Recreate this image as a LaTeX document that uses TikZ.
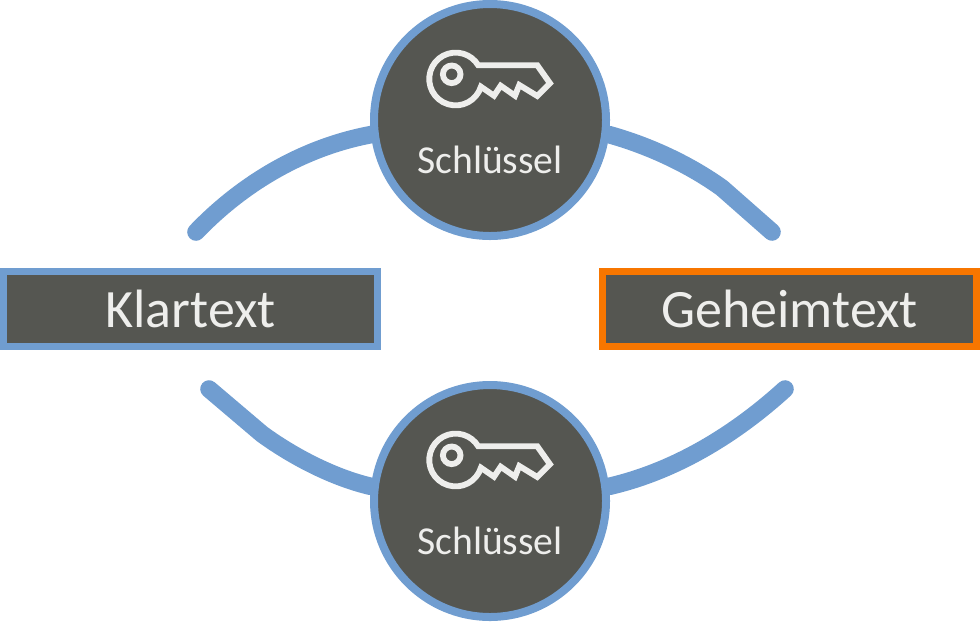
\documentclass[tikz,border=0pt]{standalone}
\usepackage{fontspec}
\usetikzlibrary{backgrounds}
\setmainfont{Carlito}
\definecolor{linkblue}{RGB}{112,157,208}
\definecolor{slate}{RGB}{85,86,81}
\definecolor{cipherorange}{RGB}{247,118,0}
\definecolor{lightgrey}{RGB}{238,238,236}
\tikzset{
  keycircle/.style={circle,draw=linkblue,fill=slate,line width=6pt,minimum size=174pt,inner sep=0pt},
  textbox/.style={rectangle,draw=linkblue,fill=slate,line width=5.25pt,minimum width=280.5pt,minimum height=56pt,inner sep=0pt,text=lightgrey,font=\fontsize{40.5}{44}\selectfont},
  keylabel/.style={text=lightgrey,inner sep=0pt,anchor=base,font=\fontsize{29.7}{34}\selectfont},
  link/.style={draw=linkblue,line width=13.2pt,line cap=round},
  keyicon/.pic={
    \draw [draw=lightgrey,line width=4.4pt,line join=miter] (25.2,7.7) arc [start angle=17,end angle=328.7,radius=26.4] -- (81.6,-13.7) -- (94.3,4.3) -- (81.6,17) -- (63.6,6) -- (59.3,16.7) -- (45,6.7) -- (38.3,16.7) -- cycle ;
    \draw [draw=lightgrey,line width=4.4pt] (-4,-4.7) circle [radius=8.8] ;
  },
}
\begin{document}
\begin{tikzpicture}[x=0.75pt,y=0.75pt,yscale=-1,xscale=1]
\useasboundingbox (0,0) rectangle (980,622);

%Key circles
\node [keycircle] (keyTop) at (490,120) {};
\node [keycircle] (keyBottom) at (490,501) {};

%Connector ends
\coordinate (plainTop) at (196,232);
\coordinate (plainBottom) at (209,389);
\coordinate (plainBend) at (262,434);
\coordinate (cipherTop) at (772,232);
\coordinate (cipherBend) at (722,188);
\coordinate (cipherBottom) at (785,389);

%Connectors
\begin{scope}[on background layer]
\draw [link] (plainTop) .. controls (240,186) and (300,148) .. (keyTop.187) ;
\draw [link,line join=round] (cipherTop) -- (cipherBend) .. controls (690,165) and (650,146) .. (keyTop.-7) ;
\draw [link,line join=round] (plainBottom) -- (plainBend) .. controls (295,458) and (335,478) .. (keyBottom.173) ;
\draw [link] (cipherBottom) .. controls (740,430) and (680,470) .. (keyBottom.7) ;
\end{scope}

%Keys
\pic [yscale=-1] at (455.7,79) {keyicon};
\pic [yscale=-1] at (455.7,460) {keyicon};

%Key labels
\node [keylabel] (labelTop) at (490,173) {Schlüssel};
\node [keylabel] (labelBottom) at (490,554) {Schlüssel};

%Text boxes
\node [textbox] (plain) at (190.5,309) {Klartext};
\node [textbox,draw=cipherorange] (cipher) at (789.5,309) {Geheimtext};
\end{tikzpicture}
\end{document}
